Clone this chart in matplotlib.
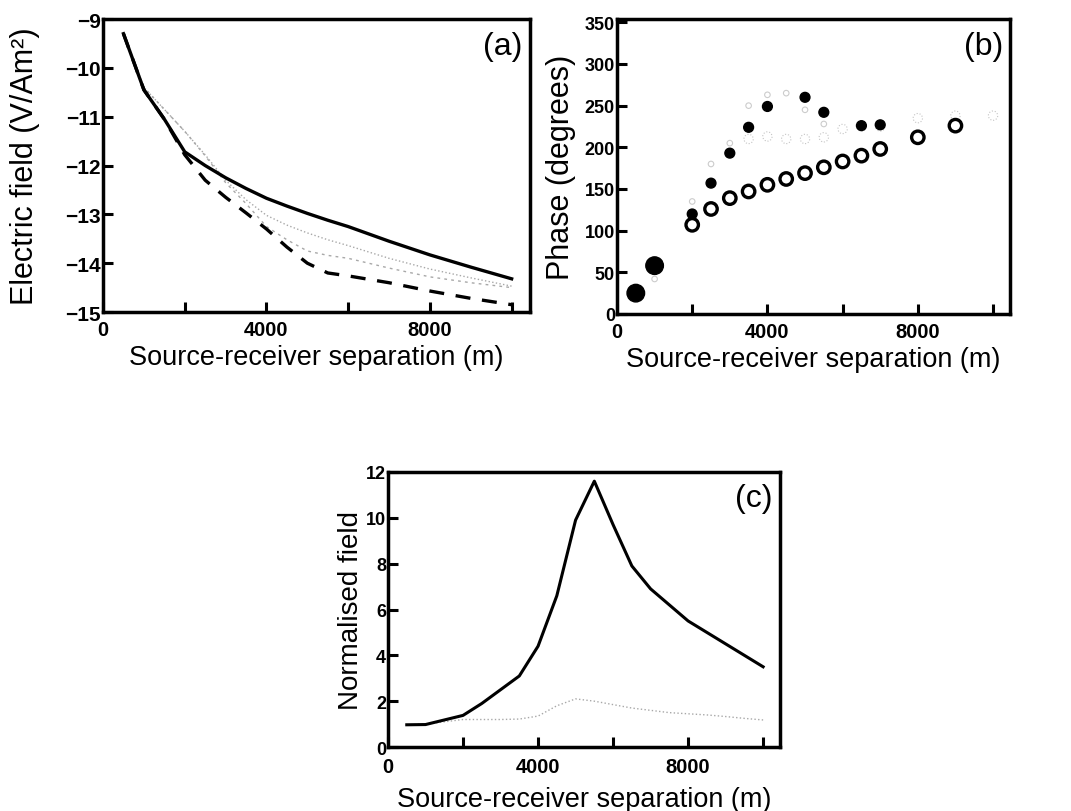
import numpy as np
import matplotlib
matplotlib.use("Agg")
import matplotlib.pyplot as plt

plt.rcParams["font.family"] = ["Liberation Sans", "DejaVu Sans"]

# (a) electric field amplitude, log10 (V/Am^2)
A_X = [500, 1000, 1500, 2000, 2500, 3000, 3500, 4000, 4500, 5000, 5500, 6000, 7000, 8000, 9000, 10000]
A_SOLID = [-9.3, -10.45, -11.05, -11.72, -12.0, -12.25, -12.47, -12.67, -12.83, -12.98, -13.12, -13.25, -13.55, -13.83, -14.08, -14.32]
A_GREY1 = [-9.3, -10.4, -10.85, -11.3, -11.78, -12.3, -12.7, -13.02, -13.22, -13.38, -13.52, -13.64, -13.9, -14.12, -14.3, -14.47]
A_GREY2 = [-9.3, -10.4, -10.85, -11.3, -11.8, -12.35, -12.78, -13.25, -13.52, -13.75, -13.84, -13.9, -14.1, -14.28, -14.4, -14.5]
A_DASH = [-9.3, -10.45, -11.05, -11.78, -12.3, -12.65, -12.97, -13.3, -13.67, -14.0, -14.2, -14.26, -14.4, -14.57, -14.72, -14.85]

# (b) phase (degrees)
B_FILL_X = [500, 1000, 2000, 2500, 3000, 3500, 4000, 5000, 5500, 6500, 7000]
B_FILL = [25, 58, 120, 157, 193, 224, 249, 260, 242, 226, 227]
B_OPEN_X = [2000, 2500, 3000, 3500, 4000, 4500, 5000, 5500, 6000, 6500, 7000, 8000, 9000]
B_OPEN = [107, 126, 139, 147, 155, 162, 169, 176, 183, 190, 198, 212, 226]
B_GFILL_X = [1000, 2000, 2500, 3000, 3500, 4000, 4500, 5000, 5500]
B_GFILL = [42, 135, 180, 205, 250, 263, 265, 245, 228]
B_GOPEN_X = [3500, 4000, 4500, 5000, 5500, 6000, 6500, 7000, 8000, 9000, 10000]
B_GOPEN = [210, 213, 210, 210, 212, 222, 225, 225, 235, 238, 238]

# (c) normalised field
C_X = [500, 1000, 1500, 2000, 2500, 3000, 3500, 4000, 4500, 5000, 5500, 6000, 6500, 7000, 7500, 8000, 8500, 9000, 9500, 10000]
C_SOLID = [0.97, 0.98, 1.18, 1.38, 1.9, 2.5, 3.1, 4.4, 6.6, 9.9, 11.6, 9.7, 7.9, 6.9, 6.2, 5.5, 5.0, 4.5, 4.0, 3.5]
C_GREY = [0.97, 1.0, 1.1, 1.2, 1.2, 1.2, 1.22, 1.35, 1.8, 2.1, 2.0, 1.85, 1.7, 1.6, 1.5, 1.45, 1.4, 1.33, 1.25, 1.18]

XLABEL = "Source-receiver separation (m)"
GREY = "#a8a8a8"


def style_axes(ax, yticks, ylabel, tag, ylab_x, xlab_y, ytick_size, ylab_size, xpad):
    ax.set_xlim(0, 10450)
    ax.set_xticks(np.arange(0, 10001, 2000))
    ax.set_xticklabels(["0", "", "4000", "", "8000", ""])
    ax.set_yticks(yticks)
    ax.tick_params(direction="in", length=7, width=2.2)
    ax.tick_params(axis="x", labelsize=14.5, pad=xpad)
    ax.tick_params(axis="y", labelsize=ytick_size, pad=1.5)
    for lab in ax.get_xticklabels() + ax.get_yticklabels():
        lab.set_fontweight("bold")
    for sp in ax.spines.values():
        sp.set_linewidth(2.5)
    ax.set_xlabel(XLABEL, fontsize=19.5)
    ax.xaxis.set_label_coords(0.5, xlab_y)
    ax.xaxis.label.set_va("center")
    ax.set_ylabel(ylabel, fontsize=ylab_size)
    ax.yaxis.set_label_coords(ylab_x, 0.5)
    ax.yaxis.label.set_va("center")
    ax.text(0.982, 0.96, tag, transform=ax.transAxes, ha="right", va="top", fontsize=23)


fig = plt.figure(figsize=(10.71, 8.12), dpi=100)

# (a)
ax = fig.add_axes([0.0962, 0.6145, 0.3987, 0.3608])
ax.plot(A_X, A_GREY1, color=GREY, lw=1.0, ls=":")
ax.plot(A_X, A_GREY2, color=GREY, lw=1.0, ls=(0, (2, 3)))
ax.plot(A_X, A_DASH, color="black", lw=2.4, ls=(0, (4.5, 3.5)))
ax.plot(A_X, A_SOLID, color="black", lw=2.4)
ax.set_ylim(-15, -9)
style_axes(ax, np.arange(-15, -8), "Electric field (V/Am²)", "(a)",
           -0.183, -0.152, 15, 22, 6)

# (b)
ax = fig.add_axes([0.5761, 0.6121, 0.3669, 0.3633])
ax.scatter(B_GFILL_X, B_GFILL, s=16, facecolor="none", edgecolor="#cccccc", lw=0.8)
ax.scatter(B_GOPEN_X, B_GOPEN, s=45, facecolor="none", edgecolor="#c4c4c4", lw=0.8, ls=":")
ax.scatter(B_OPEN_X, B_OPEN, s=80, facecolor="none", edgecolor="black", lw=2.4)
sizes = np.where(np.array(B_FILL_X) <= 1000, 160, 50)
ax.scatter(B_FILL_X, B_FILL, s=sizes, color="black")
ax.set_ylim(0, 354)
style_axes(ax, np.arange(0, 351, 50), "Phase (degrees)", "(b)",
           -0.142, -0.152, 13, 22, 6)

# (c)
ax = fig.add_axes([0.3623, 0.0788, 0.3660, 0.3387])
ax.plot(C_X, C_GREY, color=GREY, lw=1.0, ls=":")
ax.plot(C_X, C_SOLID, color="black", lw=2.2)
ax.set_ylim(0, 12)
style_axes(ax, np.arange(0, 13, 2), "Normalised field", "(c)",
           -0.094, -0.19, 13, 20, 7)

fig.savefig("out.png", dpi=100)
